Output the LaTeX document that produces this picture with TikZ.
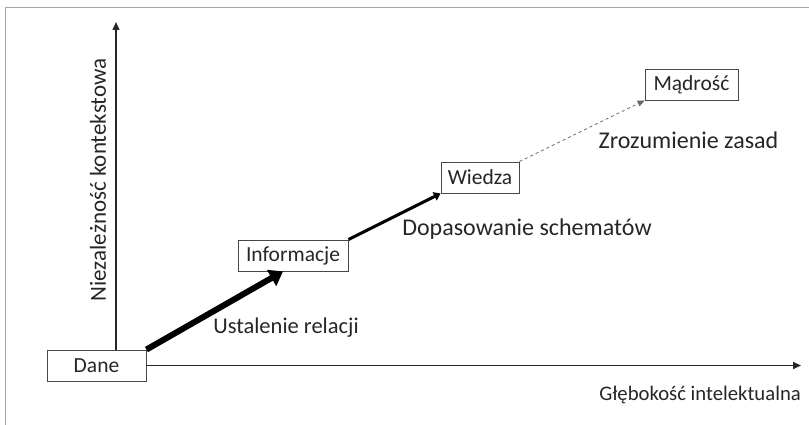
\documentclass[tikz,border=0pt]{standalone}
\usepackage{fontspec}
\setmainfont{Carlito}
\usetikzlibrary{arrows.meta}
\definecolor{ink}{HTML}{262626}
\newcommand{\fsz}[1]{\fontsize{#1}{#1}\selectfont}
\begin{document}
\begin{tikzpicture}[x=1pt,y=-1pt,
  stage/.style={draw=ink!85, line width=0.9pt, fill=white, inner sep=0pt,
    minimum height=31pt, text=ink, font=\fsz{21.5}},
  caption/.style={text=ink, font=\fsz{24}, inner sep=0pt},
  axis/.style={draw=ink, line width=1.5pt, -{Triangle[length=8pt,width=7pt]}},
  jump/.style={draw=black, -{Triangle[length=#1*2.2pt,width=#1*3pt]}, line width=#1pt}]
  \useasboundingbox (0,0) rectangle (809,425);
  % frame edges
  \draw[gray!70, line width=1pt] (5,425) -- (5,8) -- (809,8);

  % stages
  \node[stage, minimum width=99pt]  (dane)  at (96.5,365.5) {Dane};
  \node[stage, minimum width=110pt] (infor) at (293,255.5) {Informacje};
  \node[stage, minimum width=78pt]  (wied)  at (480,177.5) {Wiedza};
  \node[stage, minimum width=93pt]  (madr)  at (691.5,84.5) {Mądrość};

  % axes
  \coordinate (ytop) at (116,22);
  \coordinate (xend) at (801,365.5);
  \draw[axis] (dane.north -| ytop) -- (ytop);
  \draw[axis] (dane.east) -- (xend);
  \node[caption, font=\fsz{23}, rotate=90] (ylab) at (98,180) {Niezależność kontekstowa};
  \node[caption, font=\fsz{20.7}, anchor=east] (xlab) at (801,395) {Głębokość intelektualna};

  % transitions
  \draw[jump=6] (dane.north east) -- ([xshift=-10pt]infor.south);
  \draw[jump=3] (infor.north east) -- (wied.south west);
  \draw[draw=ink!70, dashed, line width=0.8pt, -{Triangle[length=7pt,width=6pt]}]
    (wied.north east) -- (madr.south west);

  \node[caption, font=\fsz{22.5}] (l1) at (286,328) {Ustalenie relacji};
  \node[caption] (l2) at (527,229) {Dopasowanie schematów};
  \node[caption] (l3) at (688.5,140) {Zrozumienie zasad};
\end{tikzpicture}
\end{document}
